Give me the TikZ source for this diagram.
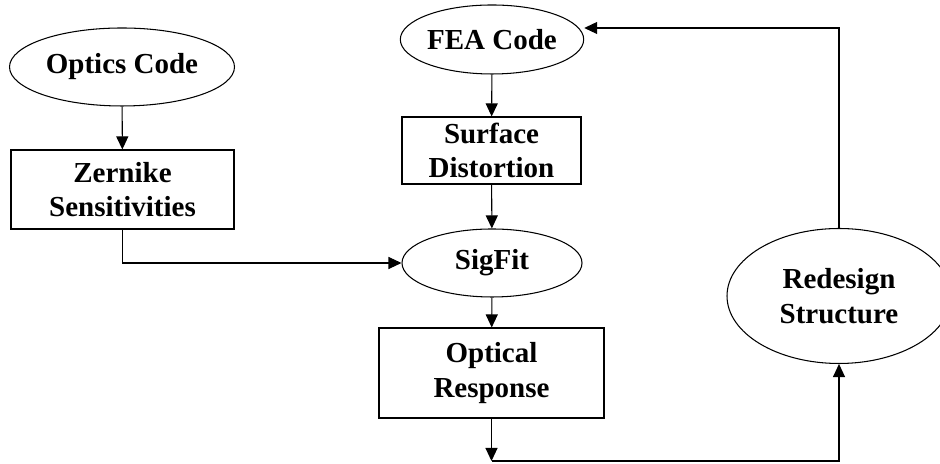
\documentclass[tikz,border=0pt]{standalone}
\usepackage{fontspec}
\setmainfont{Liberation Serif}
\usepackage{tikz}
\usetikzlibrary{shapes.geometric, arrows.meta}

\begin{document}
\begin{tikzpicture}[line width=0.6pt,
    every node/.style={font=\bfseries\fontsize{16.5}{19.5}\selectfont, align=center, inner sep=0pt},
    oval/.style={draw, ellipse},
    box/.style={draw, rectangle},
    arr/.style={-{Triangle[length=0.26cm, width=0.24cm]}}]
  \useasboundingbox (0, 0) rectangle (18.8, 9.28);
  \node[oval, minimum width=4.5cm, minimum height=1.56cm] (optics) at (2.44, 7.94) {Optics Code};
  \node[box, minimum width=4.46cm, minimum height=1.58cm] (zernike) at (2.45, 5.49) {Zernike\\Sensitivities};
  \node[oval, minimum width=3.6cm, minimum height=1.38cm] (fea) at (9.84, 8.49) {FEA Code};
  \node[box, minimum width=3.58cm, minimum height=1.34cm] (surface) at (9.83, 6.27) {Surface\\Distortion};
  \node[oval, minimum width=3.6cm, minimum height=1.36cm] (sigfit) at (9.84, 4.02) {SigFit};
  \node[box, minimum width=4.5cm, minimum height=1.8cm] (optical) at (9.83, 1.82) {Optical\\Response};
  \node[oval, minimum width=4.48cm, minimum height=2.7cm] (redesign) at (16.78, 3.36) {Redesign\\Structure};
  \coordinate (bot) at (9.83, 0.06);
  \coordinate (botright) at (16.78, 0.06);
  \draw[arr] (optics) -- (zernike);
  \draw[arr] (zernike.south) |- (sigfit.west);
  \draw[arr] (fea) -- (surface);
  \draw[arr] (surface) -- (sigfit);
  \draw[arr] (sigfit) -- (optical);
  \draw[arr] (optical) -- (bot);
  \draw[arr] (bot) -- (botright) -- (redesign.south);
  \draw[arr] (redesign.north) |- ([yshift=0.23cm]fea.east);
\end{tikzpicture}
\end{document}
